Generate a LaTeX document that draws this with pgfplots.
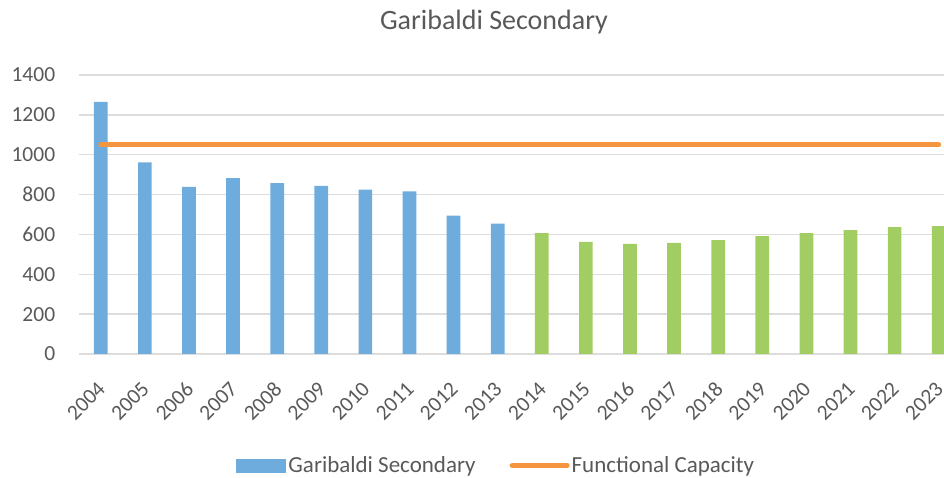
\documentclass[border=0pt]{standalone}
\usepackage{fontspec}
\setmainfont{Carlito}
\usepackage{pgfplots}
\pgfplotsset{compat=1.18}
\definecolor{txt}{HTML}{595959}
\definecolor{barblue}{HTML}{6EACDE}
\definecolor{bargreen}{HTML}{A2CD62}
\definecolor{lineorange}{HTML}{F5953F}
\definecolor{gridc}{HTML}{DDDDDD}
\begin{document}
\begin{tikzpicture}[x=1pt,y=1pt]
\useasboundingbox (0,0) rectangle (944,478);
\node[text=txt, font=\fontsize{28}{32}\selectfont, anchor=center] at (494,456) {Garibaldi Secondary};
\begin{axis}[
  at={(78.7pt,124pt)}, anchor=south west,
  width=865.3pt, height=279pt, scale only axis,
  xmin=-0.5, xmax=19.12, ymin=0, ymax=1400,
  ytick={0,200,...,1400},
  xtick={0,...,19},
  xticklabels={2004,2005,2006,2007,2008,2009,2010,2011,2012,2013,2014,2015,2016,2017,2018,2019,2020,2021,2022,2023},
  ymajorgrids, grid style={gridc, line width=1.4pt},
  axis line style={draw=none}, tick style={draw=none},
  clip=false,
  /pgf/number format/1000 sep={},
  /pgf/number format/assume math mode=true,
  ticklabel style={text=txt, font=\fontsize{21.5}{24}\selectfont},
  yticklabel style={xshift=-20pt},
  xticklabel style={rotate=45, anchor=north east, xshift=-18.4pt, yshift=-12.2pt},
  legend style={at={(0.4826,-0.4)}, anchor=center, draw=none, fill=none,
    legend columns=2, font=\fontsize{23}{25}\selectfont, text=txt,
    /tikz/every even column/.append style={column sep=32pt},
    inner sep=0pt},
  legend cell align=left,
]
\addplot[ybar, bar width=13.7pt, bar shift=0pt, fill=barblue, draw=none,
  area legend, legend image code/.code={\fill[barblue] (0pt,-7pt) rectangle (50pt,7pt);}]
  coordinates {(0,1265) (1,962) (2,838) (3,883) (4,858) (5,843) (6,825) (7,816) (8,694) (9,654)};
\addlegendentry{Garibaldi Secondary}
\addplot[ybar, bar width=13.7pt, bar shift=0pt, fill=bargreen, draw=none, forget plot]
  coordinates {(10,607) (11,562) (12,552) (13,557) (14,572) (15,592) (16,607) (17,622) (18,637) (19,642)};
\addplot[lineorange, line width=5pt, line cap=round, mark=none,
  legend image code/.code={\draw[lineorange, line width=5pt, line cap=round] (0pt,0pt) -- (55pt,0pt);}]
  coordinates {(0,1049) (1,1049) (2,1049) (3,1049) (4,1049) (5,1049) (6,1049) (7,1049) (8,1049) (9,1049) (10,1049) (11,1049) (12,1049) (13,1049) (14,1049) (15,1049) (16,1049) (17,1049) (18,1049) (19,1049)};
\addlegendentry{Functional Capacity}
\end{axis}
\end{tikzpicture}
\end{document}
